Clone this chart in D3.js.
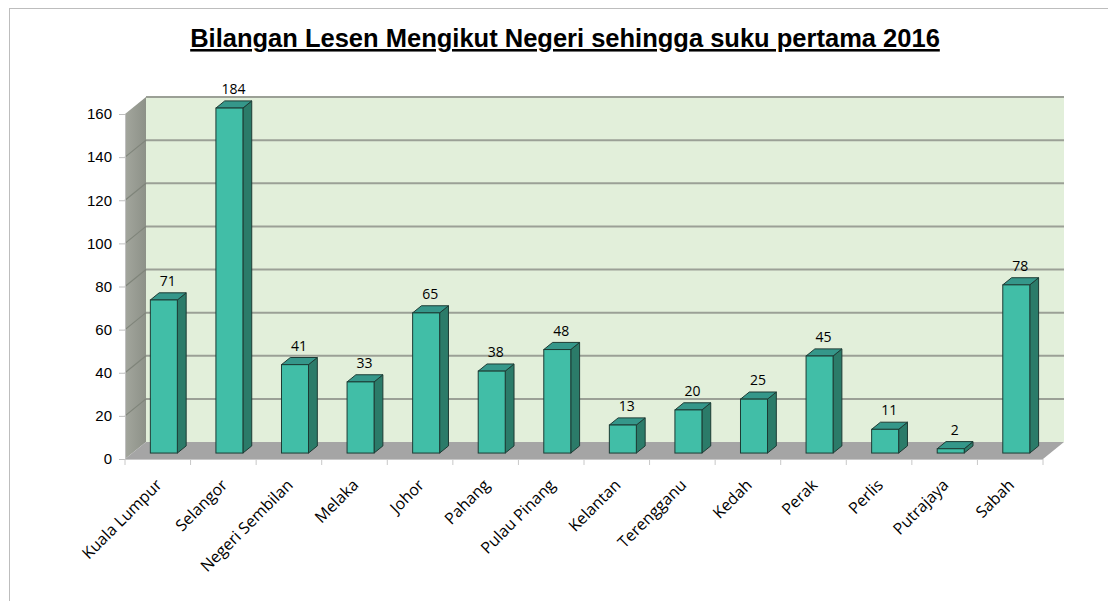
<!DOCTYPE html>
<html>
<head>
<meta charset="utf-8">
<script src="https://cdn.jsdelivr.net/npm/d3@7"></script>
<style>
  body { margin: 0; background: #fff; }
  svg { display: block; }
</style>
</head>
<body>
<div id="chart"></div>
<script>
// Data
const negeri = ['Kuala Lumpur', 'Selangor', 'Negeri Sembilan', 'Melaka', 'Johor', 'Pahang',
  'Pulau Pinang', 'Kelantan', 'Terengganu', 'Kedah', 'Perak', 'Perlis', 'Putrajaya', 'Sabah'];
const bilangan = [71, 184, 41, 33, 65, 38, 48, 13, 20, 25, 45, 11, 2, 78];
const yTicks = [0, 20, 40, 60, 80, 100, 120, 140, 160];
const tajuk = 'Bilangan Lesen Mengikut Negeri sehingga suku pertama 2016';

document.addEventListener('DOMContentLoaded', function () {
  const W = 1108, H = 601;
  const svg = d3.select('#chart').append('svg')
    .attr('width', W).attr('height', H);

  // chart border
  svg.append('rect')
    .attr('x', 9.5).attr('y', 8.5).attr('width', W + 10).attr('height', H + 10)
    .attr('fill', 'none').attr('stroke', '#bdbdbd').attr('stroke-width', 1);

  // title
  svg.append('text')
    .attr('x', 565).attr('y', 47)
    .attr('text-anchor', 'middle')
    .attr('font-family', 'Liberation Sans, Arial, sans-serif')
    .attr('font-size', 25.5).attr('font-weight', 'bold')
    .attr('text-decoration', 'underline')
    .text(tajuk);

  // 3D geometry
  const left = 125, right = 1043;
  const dx = 21, dy = -17; // full depth offset

  const x = d3.scaleBand().domain(negeri).range([left, right]).padding(0);
  const y = d3.scaleLinear().domain([0, 160]).range([459, 114]);
  const yMax = 160;

  // left side wall
  const sideGrad = svg.append('defs').append('linearGradient')
    .attr('id', 'side').attr('x1', 0).attr('x2', 1).attr('y1', 0).attr('y2', 0);
  sideGrad.append('stop').attr('offset', '0%').attr('stop-color', '#a3a69d');
  sideGrad.append('stop').attr('offset', '100%').attr('stop-color', '#8d9188');

  svg.append('polygon')
    .attr('points', [[left, y(yMax)], [left + dx, y(yMax) + dy], [left + dx, y(0) + dy], [left, y(0)]].join(' '))
    .attr('fill', 'url(#side)');

  // back wall
  svg.append('rect')
    .attr('x', left + dx).attr('y', y(yMax) + dy)
    .attr('width', right - left).attr('height', y(0) - y(yMax))
    .attr('fill', '#e2efda');

  // floor
  svg.append('polygon')
    .attr('points', [[left, y(0)], [left + dx, y(0) + dy], [right + dx, y(0) + dy], [right, y(0)]].join(' '))
    .attr('fill', '#a5a5a5');

  // gridlines (back wall + side wall)
  const grid = svg.append('g');
  grid.selectAll('line.back')
    .data(yTicks.filter(d => d > 0))
    .join('line')
    .attr('class', 'back')
    .attr('x1', left + dx).attr('x2', right + dx)
    .attr('y1', d => y(d) + dy).attr('y2', d => y(d) + dy)
    .attr('stroke', '#9ba096').attr('stroke-width', 2);
  grid.selectAll('line.side')
    .data(yTicks.filter(d => d > 0 && d < yMax))
    .join('line')
    .attr('class', 'side')
    .attr('x1', left).attr('x2', left + dx)
    .attr('y1', d => y(d)).attr('y2', d => y(d) + dy)
    .attr('stroke', '#7f847a').attr('stroke-width', 1.2);

  // y axis
  const yAxis = svg.append('g')
    .attr('transform', `translate(${left},0)`)
    .call(d3.axisLeft(y).tickValues(yTicks).tickSize(6).tickPadding(7));
  yAxis.select('.domain').attr('stroke', '#bfbfbf');
  yAxis.selectAll('.tick line').attr('stroke', '#bfbfbf');
  yAxis.selectAll('.tick text')
    .attr('font-family', 'Liberation Sans, Arial, sans-serif')
    .attr('font-size', 15).attr('fill', '#000');

  // x axis
  const xAxisG = svg.append('g')
    .attr('transform', `translate(0,${y(0)})`);
  xAxisG.append('line')
    .attr('x1', left).attr('x2', right).attr('y1', 0.5).attr('y2', 0.5)
    .attr('stroke', '#c8c8c8');
  xAxisG.selectAll('line.tk')
    .data(negeri.concat(['_end']))
    .join('line')
    .attr('class', 'tk')
    .attr('x1', (d, i) => left + i * x.bandwidth())
    .attr('x2', (d, i) => left + i * x.bandwidth())
    .attr('y1', 0).attr('y2', 6)
    .attr('stroke', '#c8c8c8');
  xAxisG.selectAll('text')
    .data(negeri)
    .join('text')
    .attr('text-anchor', 'end')
    .attr('transform', d => `translate(${x(d) + x.bandwidth() / 2 + 5},${27}) rotate(-45)`)
    .attr('font-family', 'Open Sans, sans-serif')
    .attr('font-size', 16)
    .text(d => d);

  // bars
  const bz0 = 0.35, bz1 = 0.77; // depth of bar front and back
  const bw = 27;
  const fx = d => x(d) + 18 + dx * bz0;
  const fy = v => y(Math.min(v, yMax)) + dy * bz0;
  const ox = dx * (bz1 - bz0), oy = dy * (bz1 - bz0);

  const bars = svg.append('g').selectAll('g')
    .data(negeri.map((n, i) => ({ n, v: bilangan[i] })))
    .join('g');

  const stroke = '#1d3b34';
  bars.append('polygon') // side
    .attr('points', d => {
      const x1 = fx(d.n) + bw, yt = fy(d.v), yb = fy(0);
      return [[x1, yt], [x1 + ox, yt + oy], [x1 + ox, yb + oy], [x1, yb]].join(' ');
    })
    .attr('fill', '#2b7b69').attr('stroke', stroke).attr('stroke-width', 1);
  bars.append('polygon') // top
    .attr('points', d => {
      const x0 = fx(d.n), yt = fy(d.v);
      return [[x0, yt], [x0 + ox, yt + oy], [x0 + bw + ox, yt + oy], [x0 + bw, yt]].join(' ');
    })
    .attr('fill', '#35978a').attr('stroke', stroke).attr('stroke-width', 1);
  bars.append('rect') // front
    .attr('x', d => fx(d.n)).attr('y', d => fy(d.v))
    .attr('width', bw).attr('height', d => fy(0) - fy(d.v))
    .attr('fill', '#41bea7').attr('stroke', stroke).attr('stroke-width', 1);

  // data labels
  bars.append('text')
    .attr('x', d => fx(d.n) + bw / 2 + 4)
    .attr('y', d => fy(d.v) - 14)
    .attr('text-anchor', 'middle')
    .attr('font-family', 'Open Sans, sans-serif')
    .attr('font-size', 14)
    .text(d => d.v);
});
</script>
</body>
</html>
